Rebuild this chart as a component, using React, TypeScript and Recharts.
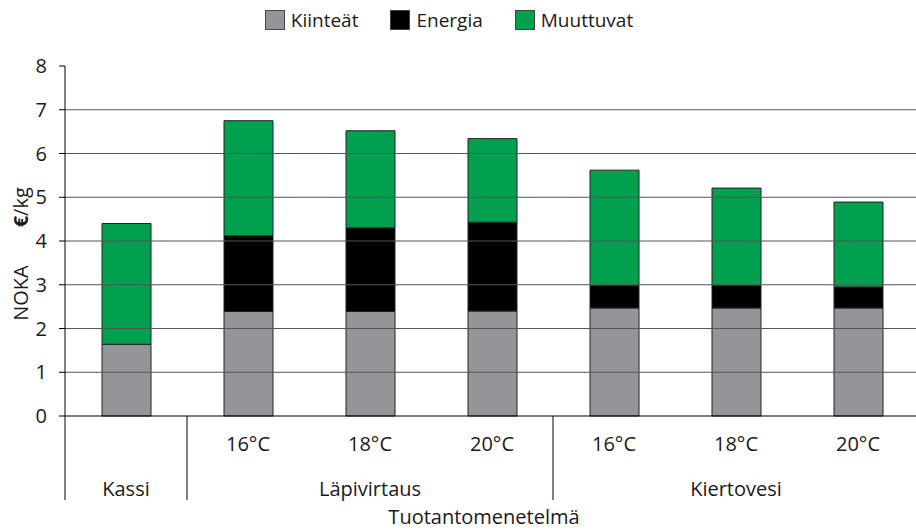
import React from 'react';
import { BarChart, Bar, XAxis, YAxis, ReferenceLine, Legend } from 'recharts';

const subLabels = ['', '16°C', '18°C', '20°C', '16°C', '18°C', '20°C'];
const groups = ['Kassi', 'Läpivirtaus', 'Läpivirtaus', 'Läpivirtaus', 'Kiertovesi', 'Kiertovesi', 'Kiertovesi'];
const kiinteat = [1.64, 2.39, 2.39, 2.4, 2.47, 2.47, 2.47];
const energia = [0, 1.73, 1.91, 2.03, 0.51, 0.51, 0.48];
const muuttuvat = [2.76, 2.63, 2.22, 1.91, 2.64, 2.23, 1.94];
const yTicks = [0, 1, 2, 3, 4, 5, 6, 7, 8];
const gridValues = [1, 2, 3, 4, 5, 6, 7];

const series = [
  { key: 'kiinteat', name: 'Kiinteät', color: '#939598' },
  { key: 'energia', name: 'Energia', color: '#000000' },
  { key: 'muuttuvat', name: 'Muuttuvat', color: '#00A04F' },
];

const data = subLabels.map((sub, i) => ({
  id: `${groups[i]}-${sub}`,
  sub,
  group: groups[i],
  kiinteat: kiinteat[i],
  energia: energia[i],
  muuttuvat: muuttuvat[i],
}));

const W = 916;
const H = 530;
const MARGIN = { top: 26, right: -3, bottom: 0, left: 10 };
const Y_WIDTH = 55;
const BAND = (W - MARGIN.left - Y_WIDTH - MARGIN.right) / data.length;
const FONT = '"Open Sans", sans-serif';

// group label sits under the middle category of its group
const groupMiddle = (i: number) => {
  const idx = groups.map((g, j) => (g === groups[i] ? j : -1)).filter(j => j >= 0);
  return idx[Math.floor(idx.length / 2)] === i && idx.length % 2 === 1;
};

const CategoryTick = (props: any) => {
  const { x, y, payload } = props;
  const i = payload.index;
  const first = i === 0 || groups[i - 1] !== groups[i];
  return (
    <g>
      {first && <line x1={x - BAND / 2} x2={x - BAND / 2} y1={y} y2={y + 84} stroke="#000" strokeWidth={1} />}
      {subLabels[i] && (
        <text x={x} y={y + 35} textAnchor="middle" fontSize={20} fill="#1a1a1a" fontFamily={FONT}>
          {subLabels[i]}
        </text>
      )}
      {groupMiddle(i) && (
        <text x={x} y={y + 80} textAnchor="middle" fontSize={20} fill="#1a1a1a" fontFamily={FONT}>
          {groups[i]}
        </text>
      )}
    </g>
  );
};

const LegendContent = () => (
  <div style={{ height: 40, display: 'flex', alignItems: 'center', justifyContent: 'center', gap: 32, paddingRight: 18, fontFamily: FONT, fontSize: 19, color: '#1a1a1a' }}>
    {series.map(s => (
      <div key={s.key} style={{ display: 'flex', alignItems: 'center' }}>
        <span style={{ width: 20, height: 20, background: s.color, border: '1px solid #444', boxSizing: 'border-box', marginRight: 6 }} />
        <span>{s.name}</span>
      </div>
    ))}
  </div>
);

const YLabel = (props: any) => {
  const { viewBox } = props;
  const cx = viewBox.x + 10;
  const cy = 254;
  return (
    <text x={cx} y={cy} transform={`rotate(-90 ${cx} ${cy})`} textAnchor="middle" dominantBaseline="central" fontSize={20} fill="#1a1a1a" fontFamily={FONT}>
      <tspan>NOKA</tspan>
      <tspan dx={38} fontWeight="bold">€</tspan>
      <tspan>/kg</tspan>
    </text>
  );
};

const XTitle = (props: any) => {
  const { viewBox } = props;
  return (
    <text x={viewBox.x + viewBox.width / 2 - 8} y={viewBox.y + 108} textAnchor="middle" fontSize={20} fill="#1a1a1a" fontFamily={FONT}>
      Tuotantomenetelmä
    </text>
  );
};

export default function App() {
  return (
    <div style={{ position: 'absolute', left: 0, top: 0, width: W, height: H, background: '#fff', overflow: 'hidden' }}>
      <BarChart width={W} height={H} data={data} margin={MARGIN} barCategoryGap={0}>
        <Legend verticalAlign="top" align="center" content={<LegendContent />} wrapperStyle={{ top: 0, left: 0, width: W }} />
        {gridValues.map(v => (
          <ReferenceLine key={v} y={v} stroke="#555" strokeWidth={1} />
        ))}
        <XAxis
          dataKey="id"
          height={114}
          tickSize={0}
          tickMargin={0}
          tickLine={false}
          axisLine={{ stroke: '#000' }}
          interval={0}
          tick={<CategoryTick />}
          label={<XTitle />}
        />
        <YAxis
          width={Y_WIDTH}
          domain={[0, 8]}
          ticks={yTicks}
          interval={0}
          tickSize={6}
          tickMargin={12}
          axisLine={{ stroke: '#000' }}
          tickLine={{ stroke: '#000' }}
          tick={{ fontSize: 20, fill: '#1a1a1a', fontFamily: FONT }}
          label={<YLabel />}
        />
        {series.map(s => (
          <Bar key={s.key} dataKey={s.key} name={s.name} stackId="a" fill={s.color} stroke="#222" strokeWidth={1} barSize={49} isAnimationActive={false} />
        ))}
      </BarChart>
    </div>
  );
}
